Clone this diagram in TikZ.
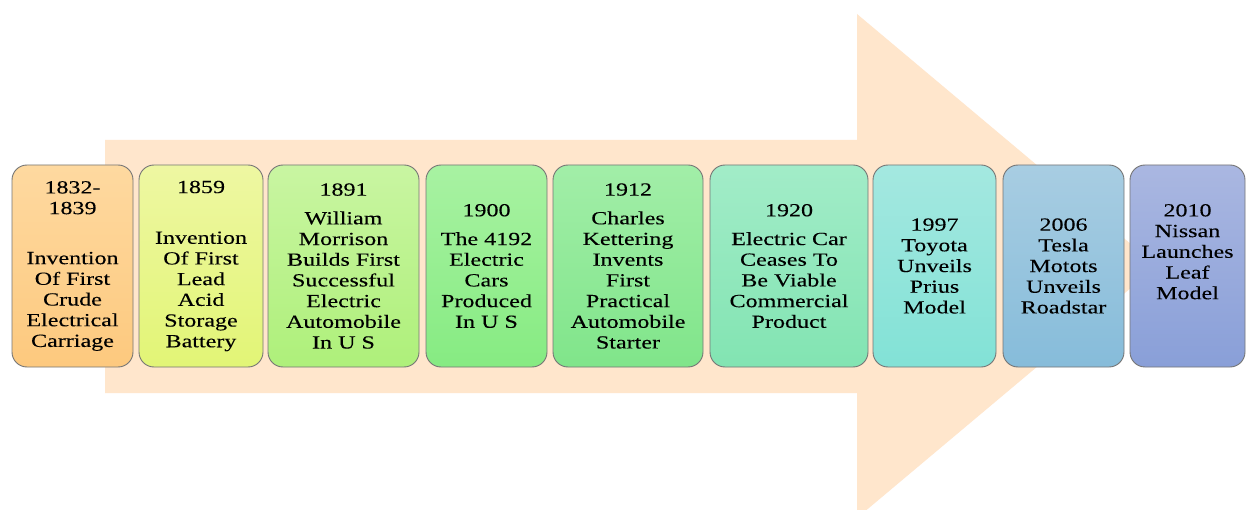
\documentclass[tikz,border=0pt]{standalone}
\usepackage{fontspec}
\setmainfont{Liberation Serif}[FakeStretch=1.3,FakeBold=0.12]
\definecolor{arrowfill}{HTML}{FFE6CC}
\definecolor{edge}{HTML}{757575}
\definecolor{c1t}{HTML}{FED9A0}\definecolor{c1b}{HTML}{FDC97E}
\definecolor{c2t}{HTML}{EEF7A2}\definecolor{c2b}{HTML}{E2F576}
\definecolor{c3t}{HTML}{C9F5A2}\definecolor{c3b}{HTML}{AEF07A}
\definecolor{c4t}{HTML}{A8F2A2}\definecolor{c4b}{HTML}{86EB82}
\definecolor{c5t}{HTML}{A2EEA8}\definecolor{c5b}{HTML}{80E58A}
\definecolor{c6t}{HTML}{A2ECC8}\definecolor{c6b}{HTML}{82E4B2}
\definecolor{c7t}{HTML}{A4E8E0}\definecolor{c7b}{HTML}{82E2D6}
\definecolor{c8t}{HTML}{A8CDE2}\definecolor{c8b}{HTML}{86BCDA}
\definecolor{c9t}{HTML}{AAB7E1}\definecolor{c9b}{HTML}{899FD8}
\begin{document}
\begin{tikzpicture}[x=1pt,y=-1pt,
  box/.style={draw=edge, line width=0.9pt, rounded corners=15pt,
    minimum height=202pt, inner sep=0pt, align=center,
    font=\fontsize{18.5}{20.7}\selectfont, text=black},
  bigarrow/.style={fill=arrowfill, draw=none}]
\clip (0,0) rectangle (1246,510);
\fill[white] (0,0) rectangle (1246,510);
\path[bigarrow] (105,140) -- (857,140) -- (857,14) -- (1157,266) -- (857,518) -- (857,393) -- (105,393) -- cycle;
\node[box, minimum width=121pt, top color=c1t, bottom color=c1b] (b1) at (72.5,266)
  {1832-\\1839\\[29.3pt]Invention\\Of First\\Crude\\Electrical\\Carriage};
\node[box, minimum width=124pt, top color=c2t, bottom color=c2b] (b2) at (201,266)
  {1859\\[30pt]Invention\\Of First\\Lead\\Acid\\Storage\\Battery};
\node[box, minimum width=151pt, top color=c3t, bottom color=c3b] (b3) at (343.5,266)
  {1891\\[8pt]William\\Morrison\\Builds First\\Successful\\Electric\\Automobile\\In U S};
\node[box, minimum width=121pt, top color=c4t, bottom color=c4b] (b4) at (486.5,266)
  {1900\\[8pt]The 4192\\Electric\\Cars\\Produced\\In U S};
\node[box, minimum width=150pt, top color=c5t, bottom color=c5b] (b5) at (628,266)
  {1912\\[8pt]Charles\\Kettering\\Invents\\First\\Practical\\Automobile\\Starter};
\node[box, minimum width=158pt, top color=c6t, bottom color=c6b] (b6) at (789,266)
  {1920\\[8pt]Electric Car\\Ceases To\\Be Viable\\Commercial\\Product};
\node[box, minimum width=123pt, top color=c7t, bottom color=c7b] (b7) at (934.5,266)
  {1997\\Toyota\\Unveils\\Prius\\Model};
\node[box, minimum width=121pt, top color=c8t, bottom color=c8b] (b8) at (1063.5,266)
  {2006\\Tesla\\Motots\\Unveils\\Roadstar};
\node[box, minimum width=115pt, top color=c9t, bottom color=c9b] (b9) at (1187.5,266)
  {2010\\Nissan\\Launches\\Leaf\\Model\\[8pt]\mbox{}};
\end{tikzpicture}
\end{document}
